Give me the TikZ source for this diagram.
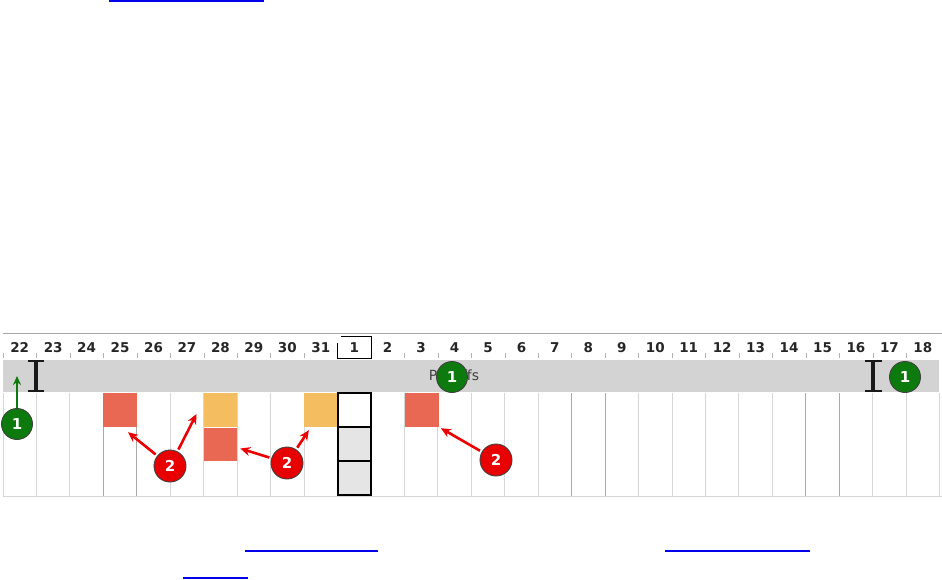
\documentclass[tikz,border=0pt]{standalone}
\usepackage{fontspec}
\setsansfont{DejaVu Sans}
\usetikzlibrary{arrows.meta}
\definecolor{bandgray}{RGB}{211,211,211}
\definecolor{gridgray}{RGB}{214,214,214}
\definecolor{weekgray}{RGB}{170,170,170}
\definecolor{slotred}{RGB}{233,104,84}
\definecolor{slotorange}{RGB}{243,189,96}
\definecolor{markgreen}{RGB}{12,122,12}
\definecolor{markred}{RGB}{232,0,0}
\definecolor{linkblue}{RGB}{0,0,235}
\tikzset{
  daylabel/.style={font=\sffamily\bfseries\fontsize{13.5}{15}\selectfont,text=black!85,inner sep=0pt,anchor=base},
  slot/.style={minimum width=33.4pt,minimum height=34pt,inner sep=0pt},
  greenmark/.style={circle,draw=black!75,line width=0.9pt,fill=markgreen,text=white,minimum size=31pt,inner sep=0pt,font=\sffamily\bfseries\fontsize{15}{17}\selectfont},
  redmark/.style={greenmark,minimum size=32pt,fill=markred},
  pointer/.style={-{Stealth[length=10pt,width=9pt]},line width=2.6pt,red!92!black,shorten <=2pt},
  caret/.style={line width=2pt,black!90},
}

\begin{document}
\begin{tikzpicture}[x=1pt,y=-1pt]
\useasboundingbox (0,0) rectangle (942,580);
\draw[linkblue,line width=2pt] (109,1) -- (264,1);
\draw[linkblue,line width=1.5pt] (245,551) -- (378,551);
\draw[linkblue,line width=1.5pt] (665,551) -- (810,551);
\draw[linkblue,line width=1.5pt] (183,578) -- (248,578);
\draw[black!35] (3,333) -- (942,333);
\fill[bandgray] (3,360) rectangle (939,392);
\foreach \d [count=\k from 0] in {22,23,24,25,26,27,28,29,30,31,1,2,3,4,5,6,7,8,9,10,11,12,13,14,15,16,17,18}{
  \pgfmathsetmacro\xl{3+33.45*\k}
  \node[daylabel] (day\d) at (\xl+16.7,352) {\d};
  \draw[black!30] (\xl,353) -- (\xl,358);
}
\foreach \k in {0,1,2,5,6,7,8,9,12,13,14,15,16,19,20,21,22,23,26,27,28}
  \draw[gridgray,line width=1pt] ({3+33.45*\k},393) -- ({3+33.45*\k},496);
\foreach \k in {3,4,17,18,24,25}
  \draw[weekgray,line width=1pt] ({3+33.45*\k},393) -- ({3+33.45*\k},496);
\draw[gridgray,line width=1pt] (3,496) -- (942,496);
\node[slot,fill=slotred] (s25) at (120.1,410) {};
\node[slot,fill=slotorange] (s28a) at (220.4,410) {};
\node[slot,fill=slotred,minimum height=33pt] (s28b) at (220.4,444.5) {};
\node[slot,fill=slotorange] (s31) at (320.8,410) {};
\node[slot,fill=slotred] (s3) at (422,410) {};
\fill[black!10] (337.5,427) rectangle (371,495);
\draw[line width=1.4pt] (337.5,427) -- (371,427) (337.5,461) -- (371,461);
\draw[line width=2pt] (337.5,393) rectangle (371,495);
\draw[line width=1pt] (341,336) -- (371,336) -- (371,358) -- (337.5,358) -- (337.5,343);
\draw[caret] (27.5,361) -- (34.5,361) -- (34.5,391) -- (27.5,391);
\draw[caret] (43.5,361) -- (36.5,361) -- (36.5,391) -- (43.5,391);
\draw[caret] (864.5,361) -- (872,361) -- (872,391) -- (864.5,391);
\draw[caret] (881.5,361) -- (874,361) -- (874,391) -- (881.5,391);
\node[font=\sffamily\fontsize{14}{16}\selectfont,text=black!75] (band) at (454,377) {Payoffs};
\node[greenmark] (mk1a) at (17,424) {1};
\node[greenmark] (mk1b) at (452,377) {1};
\node[greenmark] (mk1c) at (905,377) {1};
\node[redmark] (mk2a) at (170,466) {2};
\node[redmark] (mk2b) at (287,463) {2};
\node[redmark] (mk2c) at (496,460) {2};
\coordinate (top1) at (17,376);
\draw[-{Stealth[length=9pt,width=8pt]},markgreen,line width=2pt] (mk1a) -- (top1);
\draw[pointer] (mk2a) -- ([xshift=-9pt,yshift=-5pt]s25.south east);
\draw[pointer] (mk2a) -- ([xshift=-7pt,yshift=-4pt]s28a.west);
\draw[pointer] (mk2b) -- ([xshift=3pt,yshift=-4pt]s28b.east);
\draw[pointer] (mk2b) -- ([xshift=5pt,yshift=-3pt]s31.south west);
\draw[pointer] (mk2c) -- ([xshift=2pt,yshift=-1pt]s3.south east);
\end{tikzpicture}
\end{document}
